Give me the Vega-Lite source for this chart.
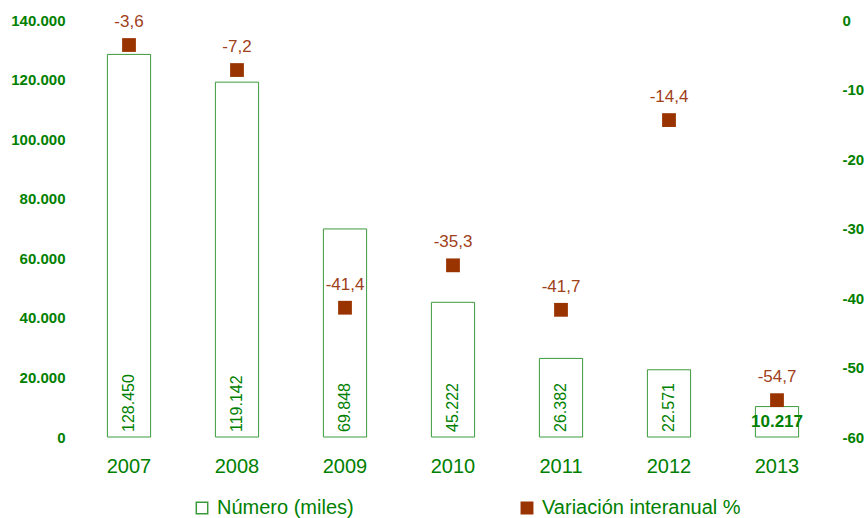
{
  "$schema": "https://vega.github.io/schema/vega-lite/v6.json",
  "width": 756,
  "height": 417,
  "autosize": {"type": "none"},
  "padding": {"left": 75, "top": 20, "right": 36, "bottom": 81},
  "background": "white",
  "config": {
    "locale": {
      "number": {"decimal": ",", "thousands": ".", "grouping": [3], "currency": ["", " €"], "minus": "-"}
    },
    "font": "Liberation Sans",
    "view": {"stroke": null}
  },
  "data": {
    "values": [
      {"year": "2007", "numero": 128450, "variacion": -3.6},
      {"year": "2008", "numero": 119142, "variacion": -7.2},
      {"year": "2009", "numero": 69848, "variacion": -41.4},
      {"year": "2010", "numero": 45222, "variacion": -35.3},
      {"year": "2011", "numero": 26382, "variacion": -41.7},
      {"year": "2012", "numero": 22571, "variacion": -14.4},
      {"year": "2013", "numero": 10217, "variacion": -54.7}
    ]
  },
  "encoding": {
    "x": {
      "field": "year",
      "type": "nominal",
      "scale": {"paddingInner": 0.6, "paddingOuter": 0.3},
      "axis": {
        "title": null,
        "labelAngle": 0,
        "labelColor": "#008000",
        "labelFontSize": 20,
        "labelPadding": 19,
        "ticks": false,
        "domain": false,
        "grid": false
      }
    }
  },
  "layer": [
    {
      "layer": [
        {
          "mark": {"type": "bar", "strokeWidth": 1},
          "encoding": {
            "y": {
              "field": "numero",
              "type": "quantitative",
              "scale": {"domain": [0, 140000]},
              "axis": {
                "orient": "left",
                "title": null,
                "values": [0, 20000, 40000, 60000, 80000, 100000, 120000, 140000],
                "format": ",d",
                "labelColor": "#008000",
                "labelFontWeight": "bold",
                "labelFontSize": 15,
                "labelPadding": 10,
                "ticks": false,
                "domain": false,
                "grid": false
              }
            },
            "fill": {
              "datum": "Número (miles)",
              "type": "nominal",
              "scale": {"domain": ["Número (miles)", "Variación interanual %"], "range": ["white", "#993300"]},
              "legend": {
                "title": null,
                "orient": "none",
                "legendX": 117,
                "legendY": 478,
                "direction": "horizontal",
                "columnPadding": 163,
                "symbolType": "square",
                "symbolSize": 130,
                "labelColor": "#008000",
                "labelFontSize": 20,
                "labelOffset": 5,
                "labelLimit": 400
              }
            },
            "stroke": {
              "datum": "Número (miles)",
              "type": "nominal",
              "scale": {"domain": ["Número (miles)", "Variación interanual %"], "range": ["#3c9a3c", "#993300"]},
              "legend": {
                "title": null,
                "orient": "none",
                "legendX": 117,
                "legendY": 478,
                "direction": "horizontal",
                "columnPadding": 163,
                "symbolType": "square",
                "symbolSize": 130,
                "labelColor": "#008000",
                "labelFontSize": 20,
                "labelOffset": 5,
                "labelLimit": 400
              }
            }
          }
        },
        {
          "transform": [{"filter": "datum.year != '2013'"}],
          "mark": {"type": "text", "angle": 270, "align": "left", "baseline": "middle", "dx": 5, "fontSize": 16, "color": "#008000"},
          "encoding": {
            "y": {"datum": 0, "type": "quantitative"},
            "text": {"field": "numero", "type": "quantitative", "format": ",d"}
          }
        },
        {
          "transform": [{"filter": "datum.year == '2013'"}],
          "mark": {"type": "text", "align": "center", "baseline": "middle", "dy": 15, "fontSize": 17, "fontWeight": "bold", "color": "#008000"},
          "encoding": {
            "y": {"field": "numero", "type": "quantitative"},
            "text": {"field": "numero", "type": "quantitative", "format": ",d"}
          }
        }
      ]
    },
    {
      "layer": [
        {
          "mark": {"type": "point", "shape": "square", "filled": true, "size": 190, "opacity": 1, "strokeWidth": 0},
          "encoding": {
            "y": {
              "field": "variacion",
              "type": "quantitative",
              "scale": {"domain": [-60, 0]},
              "axis": {
                "orient": "right",
                "title": null,
                "values": [-60, -50, -40, -30, -20, -10, 0],
                "format": "d",
                "labelColor": "#008000",
                "labelFontWeight": "bold",
                "labelFontSize": 15,
                "labelPadding": 11,
                "labelAlign": "left",
                "ticks": false,
                "domain": false,
                "grid": false
              }
            },
            "fill": {"datum": "Variación interanual %", "type": "nominal"},
            "stroke": {"datum": "Variación interanual %", "type": "nominal"}
          }
        },
        {
          "mark": {"type": "text", "align": "center", "baseline": "middle", "dy": -23, "fontSize": 17, "color": "#a0401a"},
          "encoding": {
            "y": {"field": "variacion", "type": "quantitative"},
            "text": {"field": "variacion", "type": "quantitative", "format": ".1f"}
          }
        }
      ]
    }
  ],
  "resolve": {"scale": {"y": "independent"}}
}
